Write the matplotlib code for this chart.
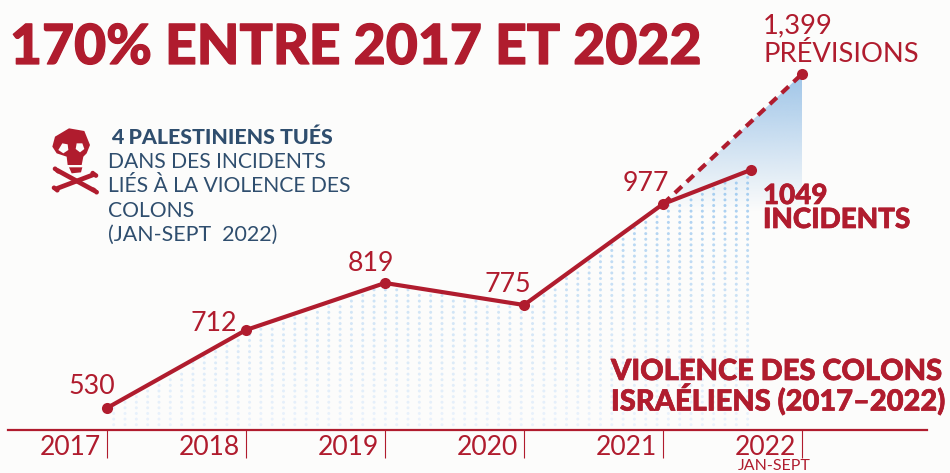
import numpy as np
import matplotlib
matplotlib.use("Agg")
import matplotlib.pyplot as plt
import matplotlib.patheffects as pe
from matplotlib.patches import Polygon, Circle
from matplotlib.colors import LinearSegmentedColormap, to_rgb

# ---- data ----
years = [2017, 2018, 2019, 2020, 2021]
incidents = [530, 712, 819, 775, 977]
x_partial = 2021.63          # Jan-Sept 2022 position on the time axis
val_partial = 1049
x_forecast = 2022
val_forecast = 1399
tick_years = [2017, 2018, 2019, 2020, 2021, 2022]
title = "170% ENTRE 2017 ET 2022"

RED = "#b01c2e"
NAVY = "#2f4e6e"
BG = "#fcfcfb"
FONT = "Lato"

W, H = 950, 473
fig = plt.figure(figsize=(9.5, 4.73), dpi=100, facecolor=BG)

# main axes: baseline at y=430px, x-axis line from 8 to 927 px
ax = fig.add_axes([8 / W, (H - 430) / H, (927 - 8) / W, 430 / H])
ax.patch.set_alpha(0)
PX_PER_YEAR = 139.0
ax.set_xlim(2017 + (8 - 107) / PX_PER_YEAR, 2017 + (927 - 107) / PX_PER_YEAR)

# The source graphic is not drawn to a uniform scale: piecewise y scale
scale_vals = [400, 530, 712, 775, 819, 977, 1049, 1399, 1700]
scale_h = [0, 22, 100, 125, 147, 226, 260, 356, 430]
ax.set_yscale("function", functions=(lambda v: np.interp(v, scale_vals, scale_h),
                                     lambda h: np.interp(h, scale_h, scale_vals)))
ax.set_ylim(400, 1700)
ax.yaxis.set_visible(False)
for s in ("top", "left", "right"):
    ax.spines[s].set_visible(False)
ax.spines["bottom"].set_color(RED)
ax.spines["bottom"].set_linewidth(1.6)
ax.set_xticks(tick_years)
ax.set_xticklabels([])
ax.tick_params(axis="x", length=20, width=0.8, color=RED)

for y in tick_years:
    ax.annotate(str(y), xy=(y, 0), xycoords=("data", "axes fraction"),
                xytext=(-6, -25), textcoords="offset pixels",
                ha="right", va="baseline", color=RED, fontsize=19.1, family=FONT)

line_x = years + [x_partial]
line_y = incidents + [val_partial]

# overlay in pixel coordinates for annotation text and pictogram
ov = fig.add_axes([0, 0, 1, 1])
ov.set_xlim(0, W)
ov.set_ylim(H, 0)
ov.axis("off")
ov.patch.set_alpha(0)
ov.set_zorder(3)
ax.set_zorder(2)

def to_px(x, y):
    p = ax.transData.transform(np.column_stack([x, y]))
    return p[:, 0], H - p[:, 1]

lx, ly = to_px(line_x, line_y)
fx, fy = to_px([years[-1], x_forecast], [incidents[-1], val_forecast])

# gradient wedge of the forecast
grad = np.zeros((256, 2, 4))
grad[..., :3] = to_rgb("#9fc5e8")
grad[..., 3] = np.linspace(1, 0, 256)[:, None] ** 1.0
bg_ax = fig.add_axes([0, 0, 1, 1], zorder=1)
bg_ax.set_xlim(0, W)
bg_ax.set_ylim(H, 0)
bg_ax.axis("off")
im = bg_ax.imshow(grad, extent=[fx[0], fx[1], 212, fy[1]], aspect="auto", zorder=1)
wedge = Polygon([(fx[0], fy[0]), (fx[1], fy[1]), (fx[1], 212), (fx[0], 212)],
                transform=bg_ax.transData, closed=True, fc="none", ec="none")
bg_ax.add_patch(wedge)
im.set_clip_path(wedge)
bg_ax.set_xlim(0, W)
bg_ax.set_ylim(H, 0)

# dotted area beneath the line
gx, gy = np.meshgrid(np.arange(113.7, 750, 11.32), np.arange(424.7, 170, -5.62))
gx, gy = gx.ravel(), gy.ravel()
mask = gy > np.interp(gx, lx, ly) + 3
cmap = LinearSegmentedColormap.from_list("dots", ["#a5cdf0", "#d0e4f6", "#eaf2fb"])
bg_ax.scatter(gx[mask], gy[mask], s=4.6, c=(gy[mask] - 190) / 235, cmap=cmap,
              vmin=0, vmax=1, linewidths=0, zorder=2)

# lines
ax.plot([years[-1], x_forecast], [incidents[-1], val_forecast], color=RED, lw=3.0,
        dashes=(2.3, 1.6), zorder=3)
ax.plot(line_x, line_y, color=RED, lw=3.0, zorder=4, solid_capstyle="round")
ax.plot(line_x + [x_forecast], line_y + [val_forecast], ls="none", marker="o", ms=8,
        color=RED, mec="none", zorder=5, clip_on=False)

def T(x, y, s, size, weight="normal", color=RED, ha="left", stroke=0):
    t = ov.text(x, y, s, fontsize=size, fontweight=weight, color=color, ha=ha,
                va="baseline", family=FONT)
    if stroke:
        t.set_path_effects([pe.withStroke(linewidth=stroke, foreground=color)])

T(10, 64, title, 39.8, "black", stroke=0.9)

for s, x, y in [(incidents[0], 68, 394), (incidents[1], 190, 331), (incidents[2], 348, 271),
                (incidents[3], 484, 292), (incidents[4], 623, 191)]:
    T(x, y, str(s), 19.3)
T(763, 33, f"{val_forecast:,}", 19.7)
T(763, 62, "PRÉVISIONS", 19.7)
T(763, 204, str(val_partial), 20, "black", stroke=0.5)
T(763, 228, "INCIDENTS", 20, "black", stroke=0.5)
T(611, 380, "VIOLENCE DES COLONS", 20.9, "black", stroke=0.5)
T(611, 410.5, "ISRAÉLIENS (2017–2022)", 20.9, "black", stroke=0.5)
T(774, 470, "JAN-SEPT", 11.5, ha="center")

T(111, 144, "4 PALESTINIENS TUÉS", 15.4, "black", NAVY)
T(108, 168, "DANS DES INCIDENTS", 15.2, "normal", NAVY)
T(108, 192, "LIÉS À LA VIOLENCE DES", 15.2, "normal", NAVY)
T(108, 217, "COLONS", 15.2, "normal", NAVY)
T(108, 241, "(JAN-SEPT  2022)", 15.4, "normal", NAVY)

# skull pictogram (zoom-crop coordinates: origin 45,125, factor 3)
def zp(pts):
    return [(45 + a / 3, 125 + b / 3) for a, b in pts]

skull = [(30, 35), (72, 10), (118, 18), (135, 60), (125, 85), (115, 95), (110, 120),
         (68, 120), (65, 95), (35, 85), (22, 65)]
ov.add_patch(Polygon(zp(skull), fc=RED, ec="none"))
for eye in ([(40, 75), (52, 55), (68, 58), (70, 75), (55, 85)],
            [(95, 55), (112, 55), (118, 72), (105, 82), (92, 72)]):
    ov.add_patch(Polygon(zp(eye), fc=BG, ec="none"))
ov.add_patch(Polygon(zp([(72, 127), (112, 127), (108, 142), (80, 145)]), fc=RED, ec="none"))
for (a, b) in [((35, 135), (150, 198)), ((148, 148), (32, 192))]:
    (p, q) = zp([a, b])
    ov.plot([p[0], q[0]], [p[1], q[1]], color=RED, lw=3.4, solid_capstyle="round")
    for c in (p, q):
        for dx, dy in ((-1.6, -1.2), (1.6, 1.2)):
            ov.add_patch(Circle((c[0] + dx, c[1] + dy * (1 if a[1] < b[1] else -1)), 2.3, fc=RED, ec="none"))

fig.savefig("out.png", dpi=100, facecolor=BG)
